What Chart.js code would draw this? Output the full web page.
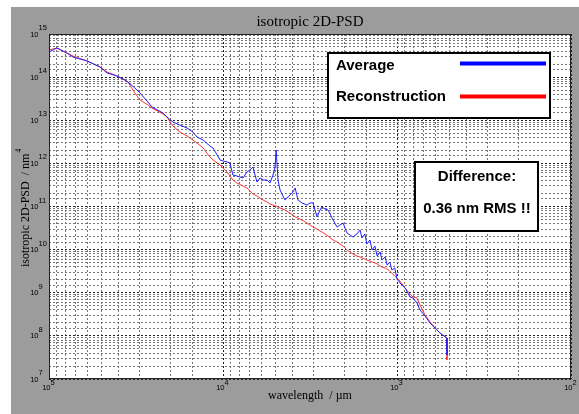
<!DOCTYPE html>
<html>
<head>
<meta charset="utf-8">
<script src="https://cdn.jsdelivr.net/npm/chart.js@4.4.1/dist/chart.umd.min.js"></script>
<style>
    html, body { margin: 0; padding: 0; background: #fff; }
    #wrap { width: 579px; height: 414px; }
</style>
</head>
<body>
<div id="wrap"><canvas id="psdChart" width="579" height="414"></canvas></div>
<script>
// Datos (longitud de onda en µm, PSD en nm^4)
const wavelength = [
    1e5, 9.0e4, 7.9e4, 7.28e4, 6.05e4, 5.09e4, 4.64e4, 4.06e4, 3.66e4, 3.52e4,
    3.21e4, 3.0e4, 2.70e4, 2.56e4, 2.21e4, 2.10e4, 1.94e4, 1.77e4, 1.61e4, 1.49e4,
    1.41e4, 1.30e4, 1.19e4, 1.14e4, 1.08e4, 1.04e4, 1.0e4, 9480, 9120, 8770,
    8320, 7670, 7280, 7000, 6730, 6380, 6120, 5890, 5580, 5370,
    5160, 5020, 4950, 4830, 4700, 4410, 4120, 3960, 3850, 3710,
    3520, 3290, 3160, 3040, 2880, 2770, 2700, 2590, 2490, 2330,
    2210, 2130, 2040, 1940, 1860, 1790, 1700, 1630, 1590, 1530,
    1490, 1430, 1390, 1340, 1300, 1250, 1220, 1170, 1140, 1100,
    1070, 1030, 1000, 961, 899, 841, 809, 767, 738, 690,
    646, 589, 566, 516, 516
];
const average = [
    3.83e14, 4.73e14, 3.63e14, 2.93e14, 2.37e14, 1.72e14, 1.25e14, 1.06e14, 8.57e13, 7.71e13,
    5.60e13, 4.29e13, 2.65e13, 2.03e13, 1.47e13, 1.19e13, 9.10e12, 7.76e12, 6.61e12, 5.33e12,
    4.09e12, 3.48e12, 2.53e12, 2.27e12, 1.56e12, 1.20e12, 1.14e12, 1.08e12, 1.02e12, 5.37e11,
    5.09e11, 4.58e11, 6.31e11, 7.02e11, 8.24e11, 3.70e11, 4.58e11, 4.11e11, 4.11e11, 3.51e11,
    5.37e11, 8.24e11, 2.04e12, 4.11e11, 2.42e11, 1.42e11, 1.85e11, 2.17e11, 2.69e11, 1.42e11,
    1.21e11, 1.08e11, 1.21e11, 1.21e11, 5.70e10, 8.30e10, 9.73e10, 8.75e10, 8.30e10, 4.86e10,
    3.34e10, 3.72e10, 4.14e10, 2.43e10, 2.18e10, 1.96e10, 2.30e10, 2.85e10, 1.86e10, 2.30e10,
    1.35e10, 1.67e10, 9.80e9, 1.21e10, 7.11e9, 8.81e9, 5.74e9, 6.75e9, 4.40e9, 5.16e9,
    3.37e9, 3.75e9, 2.08e9, 1.68e9, 1.29e9, 7.96e8, 7.55e8, 5.78e8, 3.98e8, 2.89e8,
    1.99e8, 1.37e8, 1.16e8, 8.91e7, 3.60e7
];
const reconstruction = [
    4.26e14, 4.73e14, 3.63e14, 3.09e14, 2.37e14, 1.72e14, 1.32e14, 1.06e14, 8.57e13, 7.71e13,
    4.29e13, 2.95e13, 2.26e13, 1.92e13, 1.40e13, 1.19e13, 7.36e12, 5.33e12, 4.32e12, 3.48e12,
    2.96e12, 2.27e12, 1.41e12, 1.20e12, 1.02e12, 9.17e11, 7.82e11, 6.31e11, 5.09e11, 4.11e11,
    3.51e11, 2.99e11, 2.69e11, 2.29e11, 1.95e11, 1.75e11, 1.57e11, 1.42e11, 1.27e11, 1.14e11,
    1.08e11, 1.03e11, 1.03e11, 9.73e10, 9.23e10, 8.30e10, 7.06e10, 6.35e10, 5.70e10, 5.41e10,
    4.86e10, 4.14e10, 3.72e10, 3.34e10, 3.01e10, 2.70e10, 2.56e10, 2.30e10, 2.07e10, 1.67e10,
    1.50e10, 1.35e10, 1.21e10, 9.80e9, 8.81e9, 7.92e9, 7.11e9, 6.75e9, 6.40e9, 6.06e9,
    5.74e9, 5.45e9, 5.16e9, 4.90e9, 4.65e9, 4.17e9, 3.95e9, 3.75e9, 3.55e9, 3.19e9,
    2.86e9, 2.44e9, 2.19e9, 1.87e9, 1.29e9, 9.35e8, 7.96e8, 7.55e8, 5.20e8, 3.05e8,
    2.10e8, 1.37e8, 1.16e8, 8.91e7, 2.75e7
];
const xTicks = [1e5, 1e4, 1e3, 1e2];
const yTicks = [1e15, 1e14, 1e13, 1e12, 1e11, 1e10, 1e9, 1e8, 1e7];
const titleText = 'isotropic 2D-PSD';
const xTitle = 'wavelength  / µm';
const yTitle = 'isotropic 2D-PSD  / nm';
const seriesNames = ['Average', 'Reconstruction'];
const noteLines = ['Difference:', '0.36 nm RMS !!'];

const SANS = '"Liberation Sans", Arial, sans-serif';
const SERIF = '"Liberation Serif", "Times New Roman", serif';

function toPoints(values) {
    return values.map((v, i) => ({ x: wavelength[i], y: v }));
}

function isDecade(v) {
    const e = Math.log10(v);
    return Math.abs(e - Math.round(e)) < 1e-6;
}

function gridColor(ctx) {
    return ctx.tick && isDecade(ctx.tick.value) ? '#222' : '#777';
}

// Fondo gris de la figura y zona blanca del gráfico
const figureBackground = {
    id: 'figureBackground',
    beforeDraw(chart) {
        const { ctx, chartArea: a } = chart;
        ctx.save();
        ctx.fillStyle = '#fff';
        ctx.fillRect(0, 0, chart.width, chart.height);
        ctx.fillStyle = '#9c9c9c';
        ctx.fillRect(11, 7, chart.width - 11, chart.height - 7);
        ctx.fillStyle = '#fff';
        ctx.fillRect(a.left, a.top, a.right - a.left, a.bottom - a.top);
        ctx.restore();
    }
};

// Textos, etiquetas 10^n, leyenda y recuadro
const figureText = {
    id: 'figureText',
    afterDraw(chart) {
        const { ctx, chartArea: a } = chart;
        const xs = chart.scales.x, ys = chart.scales.y;
        ctx.save();

        ctx.strokeStyle = '#222';
        ctx.lineWidth = 1;
        ctx.setLineDash([]);
        ctx.strokeRect(a.left + 0.5, a.top + 0.5, a.right - a.left - 1, a.bottom - a.top - 1);

        ctx.fillStyle = '#000';
        ctx.font = '7.5px ' + SANS;
        ctx.textBaseline = 'alphabetic';
        xTicks.forEach(v => {
            const px = xs.getPixelForValue(v);
            ctx.textAlign = 'right';
            ctx.fillText('10', px + 1.5, 390);
            ctx.textAlign = 'left';
            ctx.fillText(String(Math.round(Math.log10(v))), px + 1.5, 385);
        });
        yTicks.forEach(v => {
            const py = ys.getPixelForValue(v);
            ctx.textAlign = 'right';
            ctx.fillText('10', 38.5, py + 2.5);
            ctx.textAlign = 'left';
            ctx.fillText(String(Math.round(Math.log10(v))), 38.5, py - 4);
        });

        ctx.textAlign = 'center';
        ctx.font = '15px ' + SERIF;
        ctx.fillText(titleText, (a.left + a.right) / 2, 26);
        ctx.font = '12px ' + SERIF;
        ctx.fillText(xTitle, (a.left + a.right) / 2, 399);

        ctx.save();
        ctx.translate(28.5, 267);
        ctx.rotate(-Math.PI / 2);
        ctx.textAlign = 'left';
        ctx.font = '12px ' + SERIF;
        ctx.fillText(yTitle, 0, 0);
        const w = ctx.measureText(yTitle).width;
        ctx.font = '8px ' + SERIF;
        ctx.fillText('4', w + 1, -8);
        ctx.restore();

        // Leyenda
        ctx.fillStyle = '#fff';
        ctx.fillRect(328, 53, 222, 65);
        ctx.strokeStyle = '#000';
        ctx.lineWidth = 2;
        ctx.strokeRect(328, 53, 222, 65);
        ctx.fillStyle = '#000';
        ctx.font = 'bold 15px ' + SANS;
        ctx.textAlign = 'left';
        ctx.fillText(seriesNames[0], 336, 70);
        ctx.fillText(seriesNames[1], 336, 101);
        ctx.lineWidth = 4;
        ctx.strokeStyle = '#0000ff';
        ctx.beginPath(); ctx.moveTo(460, 63.5); ctx.lineTo(546, 63.5); ctx.stroke();
        ctx.strokeStyle = '#ff0000';
        ctx.beginPath(); ctx.moveTo(460, 96.5); ctx.lineTo(546, 96.5); ctx.stroke();

        // Recuadro de diferencia
        ctx.fillStyle = '#fff';
        ctx.fillRect(415, 162, 123, 69);
        ctx.strokeStyle = '#000';
        ctx.lineWidth = 2;
        ctx.strokeRect(415, 162, 123, 69);
        ctx.fillStyle = '#000';
        ctx.textAlign = 'center';
        ctx.fillText(noteLines[0], 477, 181);
        ctx.fillText(noteLines[1], 477, 213);

        ctx.restore();
    }
};

const logAxis = (min, max, reverse) => ({
    type: 'logarithmic',
    min: min,
    max: max,
    reverse: reverse,
    ticks: { display: false, autoSkip: false },
    grid: { color: gridColor, lineWidth: 1, drawTicks: false },
    border: { display: false, dash: [2, 2] }
});

const psdCtx = document.getElementById('psdChart').getContext('2d');
new Chart(psdCtx, {
    type: 'line',
    data: {
        datasets: [
            {
                label: seriesNames[0],
                data: toPoints(average),
                borderColor: '#2020ff',
                borderWidth: 1
            },
            {
                label: seriesNames[1],
                data: toPoints(reconstruction),
                borderColor: '#ff3535',
                borderWidth: 1
            }
        ]
    },
    options: {
        responsive: false,
        animation: false,
        layout: { padding: { left: 49, top: 34, right: 8, bottom: 35 } },
        elements: {
            point: { radius: 0 },
            line: { tension: 0 }
        },
        plugins: {
            legend: { display: false },
            title: { display: false },
            tooltip: { enabled: false }
        },
        scales: {
            x: logAxis(100, 1e5, true),
            y: logAxis(1e7, 1e15, false)
        }
    },
    plugins: [figureBackground, figureText]
});
</script>
</body>
</html>
